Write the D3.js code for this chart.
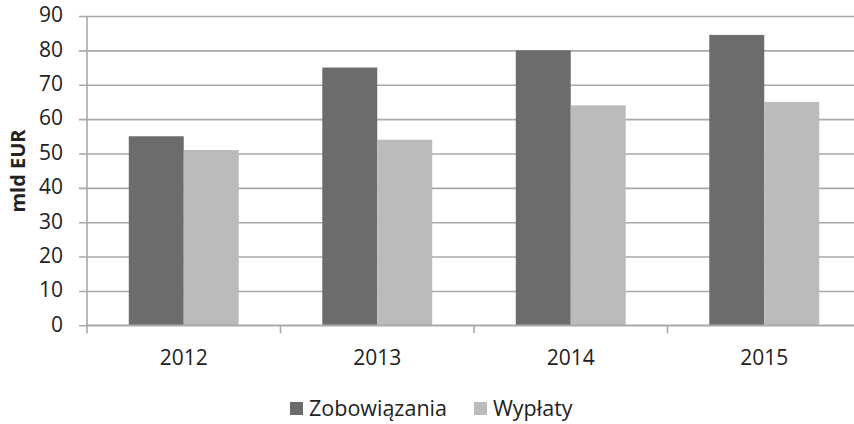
<!DOCTYPE html>
<html>
<head>
<meta charset="utf-8">
<title>Zobowiazania i wyplaty</title>
<script src="https://d3js.org/d3.v7.min.js"></script>
<style>
  body { margin: 0; background: #fff; }
  text { font-family: "Open Sans", sans-serif; fill: #222; }
</style>
</head>
<body>
<svg id="chart" width="854" height="424"></svg>
<script>
// data (mld EUR)
var years = ["2012", "2013", "2014", "2015"];
var series = ["Zobowiązania", "Wypłaty"];
var zobowiazania = [55, 75, 80, 84.5];
var wyplaty = [51, 54, 64, 65];
var yTicks = [0, 10, 20, 30, 40, 50, 60, 70, 80, 90];
var colors = ["#6c6c6c", "#bbbbbb"];

var data = years.map(function(y, i) {
  return { year: y, values: [zobowiazania[i], wyplaty[i]] };
});

var svg = d3.select("#chart");

// plot area (right edge runs slightly past the picture, like the original)
var plotLeft = 87, plotRight = 861, plotTop = 16, plotBottom = 325.3;

var x = d3.scaleBand()
    .domain(years)
    .range([plotLeft, plotRight])
    .paddingInner(0)
    .paddingOuter(0);

var x1 = d3.scaleBand()
    .domain(series)
    .range([0, x.bandwidth()])
    .paddingInner(0)
    .paddingOuter(0.76);

var y = d3.scaleLinear()
    .domain([0, 90])
    .range([plotBottom, plotTop]);

var gridColor = "#a9a9a9";

// gridlines + y ticks
svg.append("g")
    .attr("transform", "translate(" + plotLeft + ",0)")
    .call(d3.axisLeft(y).tickValues(yTicks).tickSize(-(plotRight - plotLeft)).tickSizeOuter(0).tickFormat(""))
    .call(function(g) { g.select(".domain").remove(); })
    .call(function(g) {
      g.selectAll(".tick line").attr("stroke", gridColor).attr("stroke-width", 1.6)
        .attr("x1", -8);
    });

// y labels
svg.append("g").selectAll("text")
  .data(yTicks)
  .join("text")
    .attr("x", 63)
    .attr("y", function(d) { return y(d); })
    .attr("dy", "0.3em")
    .attr("text-anchor", "end")
    .style("font-size", "21px")
    .text(function(d) { return d; });

// bars
var groups = svg.append("g").selectAll("g")
  .data(data)
  .join("g")
    .attr("transform", function(d) { return "translate(" + x(d.year) + ",0)"; });

groups.selectAll("rect")
  .data(function(d) { return d.values.map(function(v, i) { return { key: series[i], value: v, i: i }; }); })
  .join("rect")
    .attr("x", function(d) { return x1(d.key); })
    .attr("y", function(d) { return y(d.value); })
    .attr("width", x1.bandwidth())
    .attr("height", function(d) { return y(0) - y(d.value); })
    .attr("fill", function(d) { return colors[d.i]; });

// y axis line
svg.append("line")
    .attr("x1", plotLeft).attr("x2", plotLeft)
    .attr("y1", y(90)).attr("y2", plotBottom + 8)
    .attr("stroke", gridColor).attr("stroke-width", 1.6);

// x axis with ticks between categories
var xAxis = svg.append("g");
xAxis.append("line")
    .attr("x1", plotLeft).attr("x2", plotRight)
    .attr("y1", plotBottom).attr("y2", plotBottom)
    .attr("stroke", gridColor).attr("stroke-width", 1.6);
xAxis.selectAll(".sep")
  .data(years.slice(1))
  .join("line")
    .attr("class", "sep")
    .attr("x1", function(d) { return x(d); })
    .attr("x2", function(d) { return x(d); })
    .attr("y1", plotBottom).attr("y2", plotBottom + 8)
    .attr("stroke", gridColor).attr("stroke-width", 1.6);
xAxis.selectAll("text")
  .data(years)
  .join("text")
    .attr("x", function(d) { return x(d) + x.bandwidth() / 2; })
    .attr("y", 365)
    .attr("text-anchor", "middle")
    .style("font-size", "21px")
    .text(function(d) { return d; });

// y axis title
svg.append("text")
    .attr("transform", "translate(25,171) rotate(-90)")
    .attr("text-anchor", "middle")
    .style("font-size", "20px")
    .style("font-weight", "bold")
    .text("mld EUR");

// legend
var legendX = [290, 474];
var legend = svg.append("g").selectAll("g")
  .data(series)
  .join("g")
    .attr("transform", function(d, i) { return "translate(" + legendX[i] + ",402)"; });
legend.append("rect")
    .attr("width", 13).attr("height", 13)
    .attr("fill", function(d, i) { return colors[i]; });
legend.append("text")
    .attr("x", 19)
    .attr("y", 14)
    .style("font-size", "21.5px")
    .text(function(d) { return d; });
</script>
</body>
</html>
